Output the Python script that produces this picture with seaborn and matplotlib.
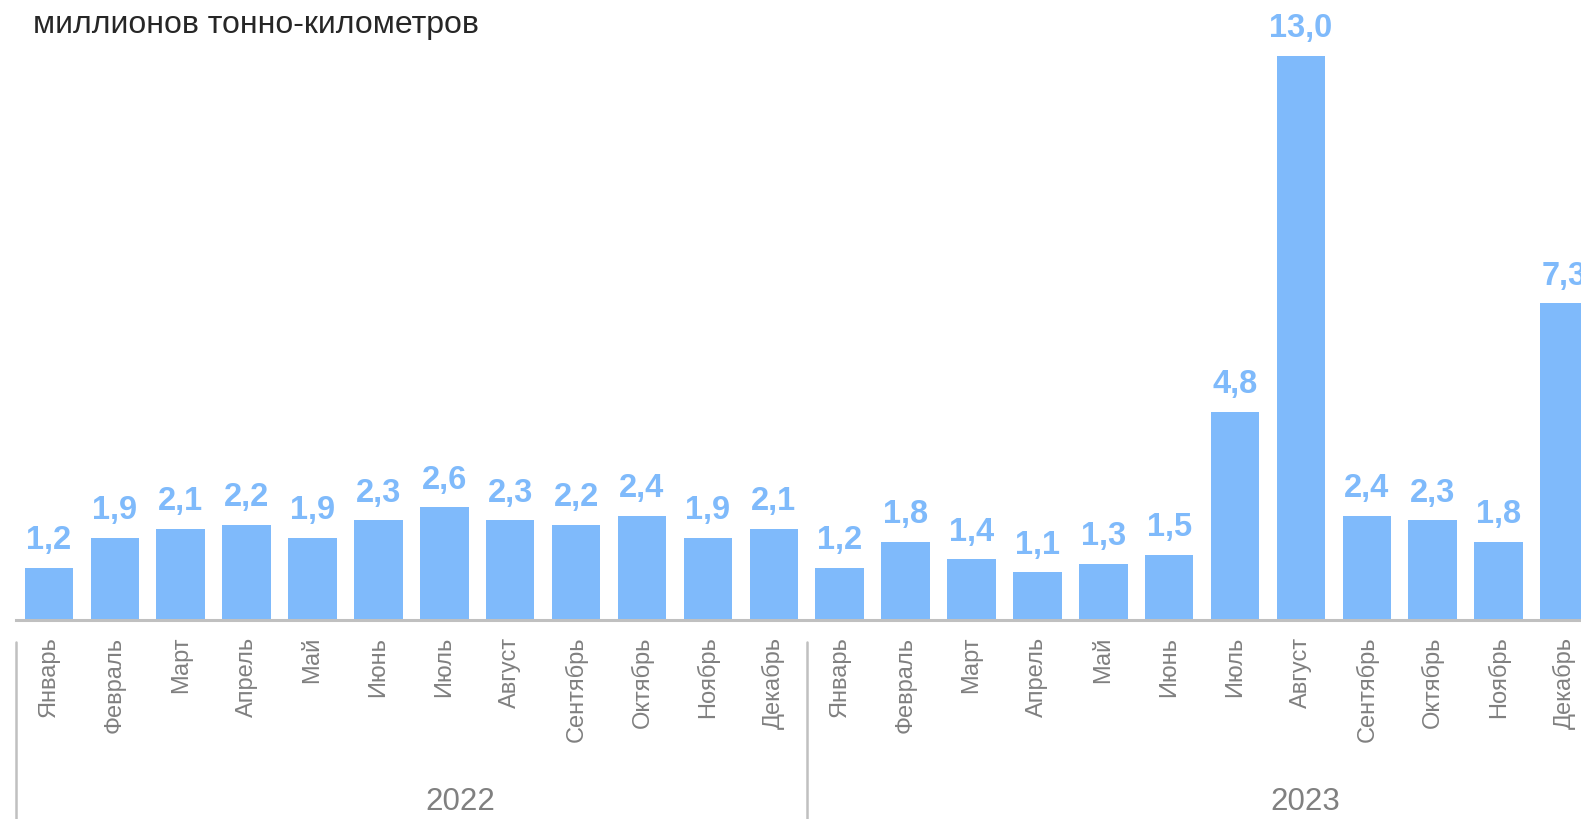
import matplotlib
matplotlib.use("Agg")
import matplotlib.pyplot as plt
import seaborn as sns
import pandas as pd

years = ["2022", "2023"]
months = ["Январь", "Февраль", "Март", "Апрель", "Май", "Июнь",
          "Июль", "Август", "Сентябрь", "Октябрь", "Ноябрь", "Декабрь"]
values_2022 = [1.2, 1.9, 2.1, 2.2, 1.9, 2.3, 2.6, 2.3, 2.2, 2.4, 1.9, 2.1]
values_2023 = [1.2, 1.8, 1.4, 1.1, 1.3, 1.5, 4.8, 13.0, 2.4, 2.3, 1.8, 7.3]
title = "миллионов тонно-километров"

sns.set_theme(style="white")
plt.rcParams["font.family"] = ["Liberation Sans", "DejaVu Sans"]

BAR = "#7fbafb"
GRAY = "#808080"
LINE = "#c0c0c0"

df = pd.DataFrame({
    "key": [f"{y}-{m}" for y in years for m in months],
    "month": months * 2,
    "value": values_2022 + values_2023,
})

fig = plt.figure(figsize=(15.81, 8.19), dpi=100)
ax = fig.add_axes([16 / 1581, 1 - 620 / 819, 1 - 16 / 1581, 620 / 819])

sns.barplot(data=df, x="key", y="value", color=BAR, width=0.737,
            saturation=1, ax=ax, edgecolor="none")

ax.set_xlim(-0.5, 23.25)
ax.set_ylim(0, 14.29)
ax.set_xlabel("")
ax.set_ylabel("")
ax.set_yticks([])
ax.set_xticks(range(len(df)))
ax.set_xticklabels(df["month"], rotation=90, fontsize=17, color=GRAY)
ax.tick_params(axis="x", length=0, pad=12)
for s in ["top", "right", "left"]:
    ax.spines[s].set_visible(False)
ax.spines["bottom"].set_color(LINE)
ax.spines["bottom"].set_linewidth(2.2)

for i, v in enumerate(df["value"]):
    ax.annotate(f"{v:.1f}".replace(".", ","), xy=(i, v), xytext=(0, 13.4),
                textcoords="offset points", ha="center", va="baseline",
                fontsize=23.5, fontweight="bold", color=BAR, clip_on=False)

trans = ax.get_xaxis_transform()
n = len(months)
for k in range(len(years)):
    xs = k * n - 0.5
    ax.plot([xs, xs], [-0.035, -0.33], transform=trans, color=LINE,
            lw=1.8, clip_on=False)

year_x = [6.24, 19.07]
for yl, xp in zip(years, year_x):
    ax.text(xp, -0.294, yl, transform=trans, ha="center", va="center",
            fontsize=22.5, color=GRAY)

fig.text(33 / 1581, 1 - 25 / 819, title, ha="left", va="center",
         fontsize=23, color="#262626")

fig.savefig("out.png", dpi=100)
